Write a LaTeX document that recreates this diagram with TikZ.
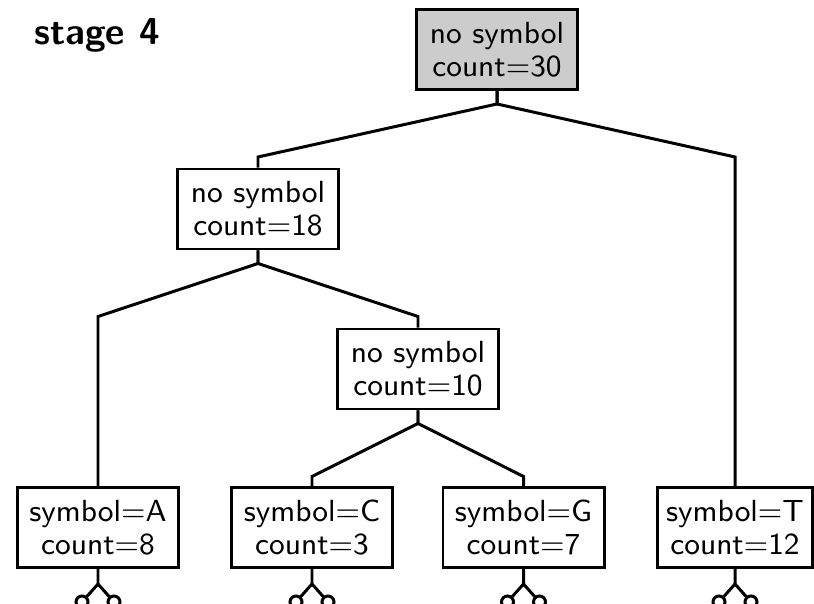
\documentclass[tikz,border=0pt]{standalone}
\usepackage{tikz}
\usetikzlibrary{calc}

\begin{document}
\begin{tikzpicture}[
  line width=0.85pt,
  every node/.style={font=\sffamily\fontsize{8.7}{9.4}\selectfont},
  nd/.style={draw,inner sep=0pt,align=center,minimum width=1.61cm,minimum height=0.8cm},
  knob/.style={draw,circle,fill=white,inner sep=0pt,minimum size=0.12cm}]
 \useasboundingbox (0,0) rectangle (8.14,-6.04);
 \clip (0,0) rectangle (8.14,-6.04);
 \node[anchor=base west,inner sep=0pt,font=\sffamily\bfseries\fontsize{10.7}{12}\selectfont] (stg) at (0.33,-0.45) {stage 4};
 \node[nd,fill=black!20] (root) at (4.97,-0.495) {no symbol\\count=30};
 \node[nd] (n18) at (2.58,-2.09) {no symbol\\count=18};
 \node[nd] (n10) at (4.18,-3.69) {no symbol\\count=10};
 \node[nd] (lA) at (0.98,-5.275) {symbol=A\\count=8};
 \node[nd] (lC) at (3.12,-5.275) {symbol=C\\count=3};
 \node[nd] (lG) at (5.235,-5.275) {symbol=G\\count=7};
 \node[nd,minimum width=1.55cm] (lT) at (7.35,-5.275) {symbol=T\\count=12};
 \foreach \a/\b in {root/n18,root/lT,n18/lA,n18/n10,n10/lC,n10/lG}
   \draw (\a.south) -- ++(0,-0.13) -- (\b.north |- {$(\a.south)+(0,-0.66)$}) -- (\b.north);
 \foreach \l in {lA,lC,lG,lT}
   \draw (\l.south) -- ++(0,-0.15) coordinate (fk) -- ++(-0.16,-0.18) node[knob]{}
     (fk) -- ++(0.16,-0.18) node[knob]{};
\end{tikzpicture}
\end{document}
